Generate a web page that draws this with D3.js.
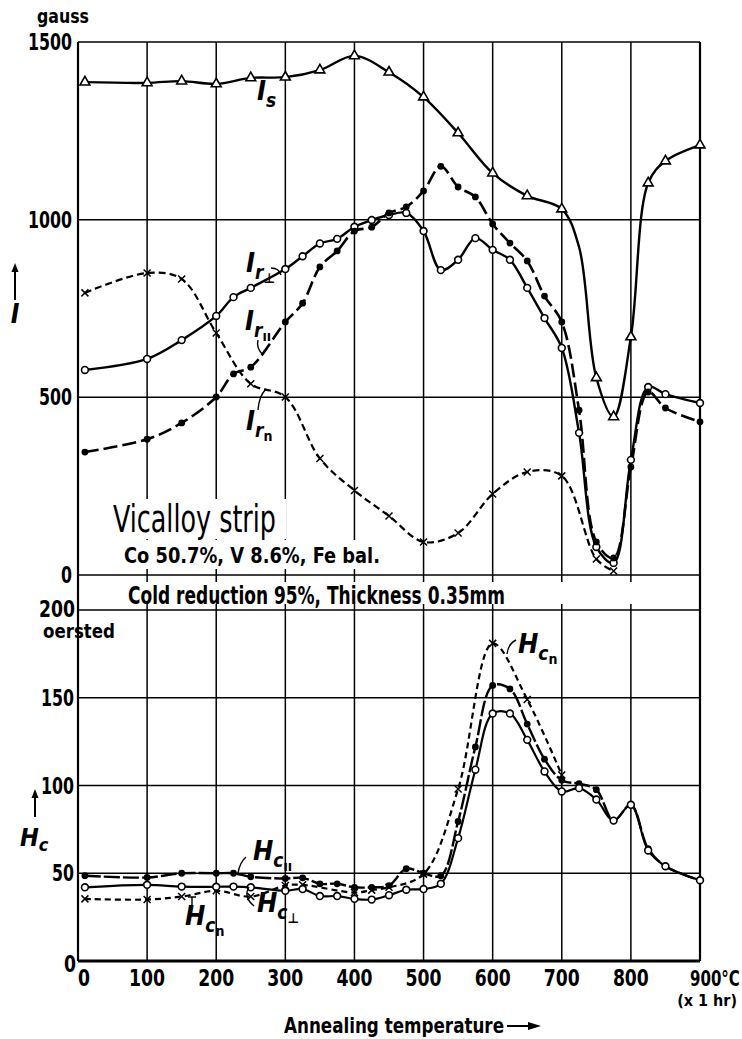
<!DOCTYPE html>
<html>
<head>
<meta charset="utf-8">
<title>Vicalloy strip</title>
<script src="https://cdn.jsdelivr.net/npm/d3@7"></script>
<style>
  body { margin: 0; background: #fff; }
  text { font-family: 'Liberation Sans Narrow', 'DejaVu Sans Condensed', sans-serif; fill: #000; }
</style>
</head>
<body>
<script>
var W = 742, H = 1039

// tick values
var xTicks = [0, 100, 200, 300, 400, 500, 600, 700, 800, 900]
var iTicks = [0, 500, 1000, 1500]
var hTicks = [0, 50, 100, 150, 200]

// I_s (triangles)
var isT = [10, 100, 150, 200, 250, 300, 350, 400, 450, 500, 550, 600, 650, 700, 750, 775, 800, 825, 850, 900]
var isV = [1387, 1385, 1390, 1382, 1399, 1401, 1421, 1461, 1415, 1345, 1244, 1131, 1067, 1030, 555, 445, 670, 1103, 1165, 1210]
// bend of the I_s line with no marker
var isBendT = [725]
var isBendV = [923]

// I_r perpendicular (open circles)
var irpT = [10, 100, 150, 200, 225, 250, 300, 325, 350, 375, 400, 425, 450, 475, 500, 525, 550, 575, 600, 625, 650, 675, 700, 725, 750, 775, 800, 825, 850, 900]
var irpV = [577, 608, 661, 729, 782, 808, 861, 897, 933, 946, 980, 999, 1013, 1019, 968, 858, 887, 948, 915, 887, 808, 723, 639, 400, 79, 34, 324, 529, 509, 484]

// I_r parallel (dots)
var irlT = [10, 100, 150, 200, 225, 250, 300, 325, 350, 375, 400, 425, 450, 475, 500, 525, 550, 575, 600, 625, 650, 675, 700, 725, 750, 775, 800, 825, 850, 900]
var irlV = [346, 382, 428, 501, 566, 585, 712, 765, 867, 912, 968, 979, 1019, 1036, 1081, 1150, 1092, 1064, 988, 934, 884, 785, 712, 464, 93, 48, 304, 515, 470, 431]

// I_r normal (crosses)
var irnT = [10, 100, 150, 200, 250, 300, 350, 400, 450, 500, 550, 600, 650, 700, 750, 775]
var irnV = [794, 850, 833, 681, 538, 501, 328, 238, 166, 93, 118, 228, 290, 279, 45, 11]

// H_c parallel (dots)
var hclT = [10, 100, 150, 200, 225, 250, 300, 325, 350, 375, 400, 425, 450, 475, 500, 525, 550, 575, 600, 625, 650, 675, 700, 725, 750, 775, 800, 825, 850, 900]
var hclV = [48.6, 47.6, 50, 50, 50, 48, 47, 47.4, 44, 44, 42, 42, 43, 52.6, 50, 48.6, 79.5, 122, 157, 155, 135, 115, 103, 101, 97.6, 80, 89, 64, 54, 46]

// H_c perpendicular (open circles)
var hcpT = [10, 100, 150, 200, 225, 250, 300, 325, 350, 375, 400, 425, 450, 475, 500, 525, 550, 575, 600, 625, 650, 675, 700, 725, 750, 775, 800, 825, 850, 900]
var hcpV = [42, 43.4, 42.4, 42.3, 42.4, 42, 40, 41, 37, 37, 35.4, 35, 37.5, 40.6, 41, 44, 70, 109, 141, 141, 126, 108, 96.6, 98.5, 92, 80, 89, 63, 54, 46]

// H_c normal (crosses)
var hcnT = [10, 100, 150, 200, 250, 300, 325, 400, 425, 450, 500, 550, 600, 650, 700]
var hcnV = [35.4, 35, 36.7, 40, 36.7, 43, 43.4, 39, 40.4, 42, 49.5, 98, 181, 149, 106]

var svg = d3.select("body").append("svg")
  .attr("width", W)
  .attr("height", H)

var x = d3.scaleLinear().domain([0, 900]).range([78, 700])
var yI = d3.scaleLinear().domain([0, 1500]).range([575, 42])
var yH = d3.scaleLinear().domain([0, 200]).range([961, 610])

var zip = (t, v) => t.map((d, i) => [d, v[i]])

// grid
var grid = svg.append("g").attr("stroke", "#000").attr("stroke-width", 1.5)
xTicks.forEach(function(t) {
  grid.append("line").attr("x1", x(t)).attr("x2", x(t)).attr("y1", yI(1500)).attr("y2", yI(0))
  grid.append("line").attr("x1", x(t)).attr("x2", x(t)).attr("y1", yH(200)).attr("y2", yH(0))
  // short ticks in the band between the panels
  grid.append("line").attr("x1", x(t)).attr("x2", x(t)).attr("y1", yI(0)).attr("y2", yI(0) + 7)
  grid.append("line").attr("x1", x(t)).attr("x2", x(t)).attr("y1", yH(200) - 6).attr("y2", yH(200))
})
iTicks.forEach(function(v) {
  grid.append("line").attr("x1", x(0)).attr("x2", x(900)).attr("y1", yI(v)).attr("y2", yI(v))
})
hTicks.forEach(function(v) {
  grid.append("line").attr("x1", x(0)).attr("x2", x(900)).attr("y1", yH(v)).attr("y2", yH(v))
})
// frame
var frame = svg.append("g").attr("stroke", "#000").attr("stroke-width", 2.2)
frame.append("line").attr("x1", x(0)).attr("x2", x(0)).attr("y1", yI(1500)).attr("y2", yH(0))
frame.append("line").attr("x1", x(900)).attr("x2", x(900)).attr("y1", yI(1500)).attr("y2", yH(0))
frame.append("line").attr("x1", x(0)).attr("x2", x(900)).attr("y1", yH(0)).attr("y2", yH(0)).attr("stroke-width", 3)

// white boxes behind the alloy text
svg.append("rect").attr("x", 104).attr("y", 499).attr("width", 182).attr("height", 40).attr("fill", "#fff")
svg.append("rect").attr("x", 118).attr("y", 540).attr("width", 270).attr("height", 29).attr("fill", "#fff")
svg.append("rect").attr("x", 100).attr("y", 582).attr("width", 420).attr("height", 21).attr("fill", "#fff")

var curve = d3.curveCatmullRom.alpha(0.5)
var lineI = d3.line().x(d => x(d[0])).y(d => yI(d[1])).curve(curve)
var lineH = d3.line().x(d => x(d[0])).y(d => yH(d[1])).curve(curve)

function drawLine(pts, gen, dash, w) {
  svg.append("path").datum(pts)
    .attr("d", gen)
    .attr("fill", "none")
    .attr("stroke", "#000")
    .attr("stroke-width", w)
    .attr("stroke-dasharray", dash)
    .attr("stroke-linejoin", "round")
}

function drawMarks(pts, y, kind) {
  var g = svg.append("g")
  pts.forEach(function(d) {
    var px = x(d[0]), py = y(d[1])
    if (kind == "tri") {
      g.append("path").attr("d", d3.symbol(d3.symbolTriangle, 42)()).attr("transform", "translate(" + px + "," + py + ")")
        .attr("fill", "#fff").attr("stroke", "#000").attr("stroke-width", 1.6)
    } else if (kind == "open") {
      g.append("circle").attr("cx", px).attr("cy", py).attr("r", 3.4).attr("fill", "#fff").attr("stroke", "#000").attr("stroke-width", 1.6)
    } else if (kind == "dot") {
      g.append("circle").attr("cx", px).attr("cy", py).attr("r", 3.4).attr("fill", "#000")
    } else {
      g.append("path").attr("d", "M-3.5,-3.5L3.5,3.5M-3.5,3.5L3.5,-3.5").attr("transform", "translate(" + px + "," + py + ")")
        .attr("stroke", "#000").attr("stroke-width", 1.5)
    }
  })
}

// upper panel
var isPts = zip(isT, isV)
var isLinePts = isPts.concat(zip(isBendT, isBendV)).sort((a, b) => a[0] - b[0])
drawLine(isLinePts, lineI, null, 2.4)
drawLine(zip(irpT, irpV), lineI, null, 2.4)
drawLine(zip(irlT, irlV), lineI, "14,5", 2.6)
drawLine(zip(irnT, irnV), lineI, "7,4", 2.2)
drawMarks(isPts, yI, "tri")
drawMarks(zip(irpT, irpV), yI, "open")
drawMarks(zip(irlT, irlV), yI, "dot")
drawMarks(zip(irnT, irnV), yI, "cross")

// lower panel
drawLine(zip(hcnT, hcnV), lineH, "6,4", 2.2)
drawLine(zip(hclT, hclV), lineH, "16,3", 2.4)
drawLine(zip(hcpT, hcpV), lineH, null, 2.2)
drawMarks(zip(hcnT, hcnV), yH, "cross")
drawMarks(zip(hclT, hclV), yH, "dot")
drawMarks(zip(hcpT, hcpV), yH, "open")

// text helper: bold, optionally squeezed to a width
function txt(px, py, s, size, anchor, len) {
  var t = svg.append("text").attr("x", px).attr("y", py).attr("font-size", size)
    .style("font-weight", "bold").attr("text-anchor", anchor || "start").text(s)
  if (len) t.attr("textLength", len).attr("lengthAdjust", "spacingAndGlyphs")
  return t
}

// axis labels
txt(63, 23, "gauss", 19, "middle", 52)
iTicks.forEach(function(v) {
  txt(72, yI(v) + 8, v, 23, "end", String(v).length * 11)
})
txt(75, yH(200) + 7, "200", 23, "end", 36)
txt(43, 638, "oersted", 19, "start", 72)
hTicks.slice(1, 4).forEach(function(v) {
  txt(74, yH(v) + 8, v, 23, "end", String(v).length * 11)
})
txt(64, 972, "0", 23, "start", 12)

xTicks.forEach(function(t) {
  if (t == 900) {
    // squeezed with a transform so the box stays inside the page
    txt(0, 0, "900°C", 22, "start").attr("transform", "translate(" + (x(t) - 10) + ",986) scale(0.76,1)")
  } else {
    txt(x(t) + (t == 0 ? 6 : 0), 986, t, 23, "middle", String(t).length * 12)
  }
})
txt(737, 1006, "(x 1 hr)", 16, "end")
txt(284, 1033, "Annealing temperature", 22, "start", 220)
svg.append("line").attr("x1", 507).attr("x2", 530).attr("y1", 1026).attr("y2", 1026).attr("stroke", "#000").attr("stroke-width", 2)
svg.append("path").attr("d", "M528,1022L541,1026L528,1030Z").attr("fill", "#000")

// vertical quantity labels with arrows
function upArrow(px, y1, y2) {
  svg.append("line").attr("x1", px).attr("x2", px).attr("y1", y1).attr("y2", y2 + 6).attr("stroke", "#000").attr("stroke-width", 2)
  svg.append("path").attr("d", "M" + (px - 3.5) + "," + (y2 + 9) + "L" + px + "," + y2 + "L" + (px + 3.5) + "," + (y2 + 9) + "Z").attr("fill", "#000")
}
upArrow(15, 300, 263)
txt(15, 323, "I", 26, "middle").attr("font-style", "italic")
upArrow(35, 817, 789)
var hc = txt(20, 846, "", 25).attr("font-style", "italic")
hc.append("tspan").text("H")
hc.append("tspan").attr("dy", 5).attr("font-size", 18).text("c")

// alloy text
svg.append("text").attr("x", 113).attr("y", 532).attr("font-size", 37).style("font-weight", "normal")
  .attr("textLength", 163).attr("lengthAdjust", "spacingAndGlyphs").text("Vicalloy strip")
txt(124, 563, "Co 50.7%, V 8.6%, Fe bal.", 22, "start", 256)
txt(128, 604, "Cold reduction 95%, Thickness 0.35mm", 24, "start", 377)

// curve labels
function curveLabel(px, py, main, sub, sub2) {
  var t = txt(px, py, "", 27).attr("font-style", "italic")
  t.append("tspan").text(main)
  t.append("tspan").attr("dy", 7).attr("font-size", 19).text(sub)
  if (sub2) t.append("tspan").attr("dy", 4).attr("font-size", 14).attr("font-style", "normal").text(sub2)
}
function leader(d) {
  svg.append("path").attr("d", d).attr("fill", "none").attr("stroke", "#000").attr("stroke-width", 1.4)
}
curveLabel(257, 100, "I", "s")
curveLabel(246, 272, "I", "r", "⊥")
leader("M271,268Q279,268 281,275")
curveLabel(245, 330, "I", "r", "ıı")
leader("M258,340Q256,348 263,355")
curveLabel(246, 430, "I", "r", "n")
leader("M258,410Q259,396 266,389")

curveLabel(253, 860, "H", "c", "ıı")
leader("M246,857Q240,862 238,873")
curveLabel(257, 912, "H", "c", "⊥")
leader("M249,887Q243,897 254,906")
curveLabel(185, 925, "H", "c", "n")
leader("M192,907L192,897M188,897L196,897")
curveLabel(518, 653, "H", "c", "n")
leader("M516,640Q508,644 507,654")
</script>
</body>
</html>
